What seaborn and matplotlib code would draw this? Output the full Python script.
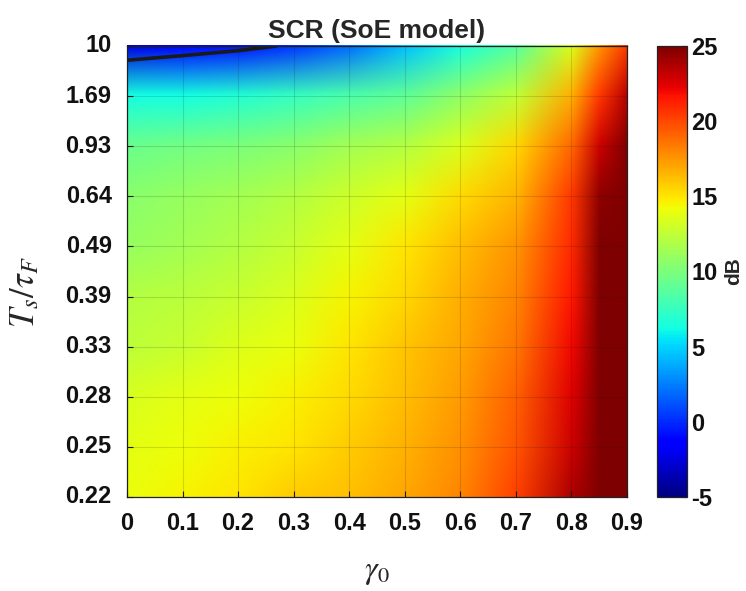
import numpy as np
import pandas as pd
import matplotlib
matplotlib.use("Agg")
import matplotlib.pyplot as plt
from matplotlib.image import NonUniformImage
from matplotlib.colors import Normalize
import seaborn as sns

# gamma_0 sample positions (x) and tick labels
gamma0 = [0.0, 0.1, 0.2, 0.3, 0.4, 0.5, 0.6, 0.7, 0.8, 0.85, 0.9]
gamma0_labels = ['0', '0.1', '0.2', '0.3', '0.4', '0.5', '0.6', '0.7', '0.8', '0.9']
# T_s / tau_F rows, top to bottom
ratio_labels = ['10', '1.69', '0.93', '0.64', '0.49', '0.39', '0.33', '0.28', '0.25', '0.22']

# SCR (dB), one list per row (top to bottom)
scr_10   = [-2.5, -1.5, -0.7, 0.3, 2.0, 4.4, 6.4, 8.6, 13.5, 17.5, 20.5]
scr_1_69 = [6.3, 6.3, 6.8, 7.5, 8.3, 9.0, 10.8, 12.5, 16.7, 20.5, 23.5]
scr_0_93 = [9.3, 9.7, 10.0, 10.5, 11.5, 12.0, 13.5, 15.5, 19.0, 23.0, 25.0]
scr_0_64 = [10.5, 11.0, 11.5, 12.0, 13.0, 13.8, 15.3, 16.5, 20.5, 24.6, 25.0]
scr_0_49 = [11.0, 11.5, 12.0, 12.7, 13.8, 15.0, 16.3, 17.5, 21.0, 25.0, 25.0]
scr_0_39 = [12.0, 12.3, 12.8, 13.5, 14.5, 15.5, 16.7, 18.0, 21.5, 25.0, 25.0]
scr_0_33 = [12.4, 12.8, 13.6, 14.0, 15.0, 16.0, 17.0, 18.5, 22.0, 25.0, 25.0]
scr_0_28 = [13.3, 13.8, 14.2, 14.6, 15.3, 16.3, 17.3, 19.2, 22.5, 25.0, 25.0]
scr_0_25 = [13.8, 14.2, 14.6, 15.0, 15.8, 16.6, 17.7, 19.5, 23.0, 25.0, 25.0]
scr_0_22 = [14.1, 14.5, 15.0, 15.8, 16.2, 17.0, 18.0, 20.3, 23.8, 25.0, 25.0]

cbar_ticks = [-5, 0, 5, 10, 15, 20, 25]

sns.set_theme(style="white")
plt.rcParams['font.family'] = ['Liberation Sans', 'DejaVu Sans']
plt.rcParams['mathtext.fontset'] = 'stix'
plt.rcParams['axes.unicode_minus'] = False

Z = np.array([scr_10, scr_1_69, scr_0_93, scr_0_64, scr_0_49,
              scr_0_39, scr_0_33, scr_0_28, scr_0_25, scr_0_22])
tick_cols = [i for i, g in enumerate(gamma0)
             if any(abs(g - float(l)) < 1e-9 for l in gamma0_labels)]
df = pd.DataFrame(Z[:, tick_cols], index=ratio_labels, columns=gamma0_labels)

fig = plt.figure(figsize=(7.46, 5.91), dpi=100)
ax = fig.add_axes([0.1702, 0.1591, 0.6702, 0.7631])
cax = fig.add_axes([0.8807, 0.1591, 0.0402, 0.7631])

norm = Normalize(vmin=-5, vmax=25)
sns.heatmap(df, ax=ax, cbar_ax=cax, cmap='jet', vmin=-5, vmax=25,
            cbar_kws={'ticks': cbar_ticks})

# smooth (bilinear) rendering of the same grid, nodes at tick positions
xs = np.array(gamma0) / 0.1 + 0.5
ys = np.arange(len(ratio_labels)) + 0.5
im = NonUniformImage(ax, interpolation='bilinear', cmap='jet', norm=norm,
                     extent=(xs[0], xs[-1], ys[0], ys[-1]))
im.set_data(xs, ys, Z)
im.set_zorder(1.5)
ax.add_image(im)

Xg, Yg = np.meshgrid(xs, ys)
ax.contour(Xg, Yg, Z, levels=[0], colors='k', linewidths=2.6, zorder=2)
ax.set_xlim(xs[0], xs[-1])
ax.set_ylim(ys[-1], ys[0])

ax.set_xticks(np.arange(len(gamma0_labels)) + 0.5)
ax.set_xticklabels(gamma0_labels, rotation=0)
ax.set_yticks(np.arange(len(ratio_labels)) + 0.5)
ax.set_yticklabels(ratio_labels, rotation=0)
ax.tick_params(direction='in', length=4, width=0.8, color='k',
               labelsize=17, pad=11, left=True, bottom=True, labelcolor='#111111')
for lab in ax.get_xticklabels() + ax.get_yticklabels():
    lab.set_fontweight('bold')

ax.grid(True, color='k', alpha=0.15, linewidth=0.8)
ax.set_axisbelow(False)
for s in ax.spines.values():
    s.set_visible(True)
    s.set_color('#222222')
    s.set_linewidth(0.9)

ax.set_title('SCR (SoE model)', fontsize=19, fontweight='bold', pad=6)
ax.set_xlabel(r'$\gamma_0$', fontsize=23)
ax.set_ylabel(r'$T_s/\tau_F$', fontsize=25)
ax.xaxis.set_label_coords(0.5, -0.132)
ax.yaxis.set_label_coords(-0.172, 0.455)

cbar = ax.collections[0].colorbar
cbar.ax.tick_params(labelsize=17, direction='in', length=4, width=0.8,
                    right=True, color='k', labelcolor='#111111', pad=3)
for lab in cbar.ax.get_yticklabels():
    lab.set_fontweight('bold')
cbar.outline.set_visible(True)
cbar.outline.set_edgecolor('#222222')
cbar.outline.set_linewidth(0.9)
cbar.set_label('dB', fontsize=15, fontweight='bold', labelpad=5)

fig.savefig('out.png', dpi=100)
